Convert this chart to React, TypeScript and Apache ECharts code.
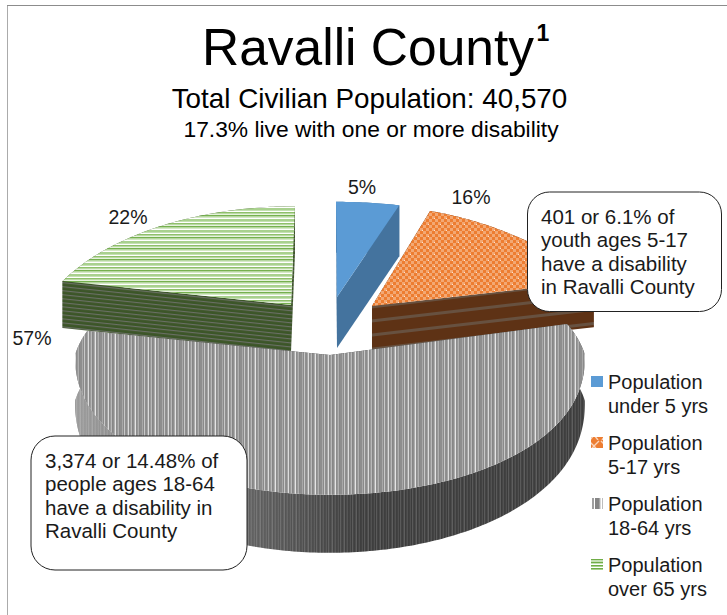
import React, { useEffect, useRef } from "react";
import * as echarts from "echarts";

const titleText = "Ravalli County";
const titleSup = "1";
const subtitle = "Total Civilian Population: 40,570";
const subtitle2 = "17.3% live with one or more disability";
const categories = ["Population under 5 yrs", "Population 5-17 yrs", "Population 18-64 yrs", "Population over 65 yrs"];
const legendLines = [
  ["Population", "under 5 yrs"],
  ["Population", "5-17 yrs"],
  ["Population", "18-64 yrs"],
  ["Population", "over 65 yrs"],
];
const shares = [5, 16, 57, 22];
const calloutYouth = ["401 or 6.1% of", "youth ages 5-17", "have a disability", "in Ravalli County"];
const calloutAdults = ["3,374 or 14.48% of", "people ages 18-64", "have a disability in", "Ravalli County"];

const FONT = '"Liberation Sans", Arial, sans-serif';
const INK = "#1a1a1a";

type Geo = {
  ax: number; ay: number; a: number; b: number; kx: number; ky: number; skew: number; depth: number;
  lx: number; ly: number; z: number;
};
const geometry: Geo[] = [
  { ax: 337, ay: 297, a: 270, b: 132, kx: 0.336, ky: 0.387, skew: -1, depth: 51, lx: 362, ly: 187, z: 1 },
  { ax: 372, ay: 306, a: 248, b: 100, kx: 0.336, ky: 0, skew: 0, depth: 46, lx: 471, ly: 197, z: 2 },
  { ax: 330, ay: 355, a: 255, b: 137, kx: 0.17, ky: 0.387, skew: 0, depth: 46, lx: 32, ly: 338, z: 4 },
  { ax: 291, ay: 305, a: 248, b: 137, kx: 0.336, ky: 0.387, skew: 4, depth: 47, lx: 128, ly: 217, z: 3 },
];

function tile(w: number, h: number, draw: (c: CanvasRenderingContext2D) => void) {
  const canvas = document.createElement("canvas");
  canvas.width = w;
  canvas.height = h;
  draw(canvas.getContext("2d") as CanvasRenderingContext2D);
  return canvas;
}

function vStripes(colors: string[]) {
  return tile(colors.length, 8, (c) => colors.forEach((col, i) => { c.fillStyle = col; c.fillRect(i, 0, 1, 8); }));
}
function hStripes(colors: string[]) {
  return tile(8, colors.length, (c) => colors.forEach((col, i) => { c.fillStyle = col; c.fillRect(0, i, 8, 1); }));
}

function makeFills() {
  const lattice = tile(12, 12, (c) => {
    c.fillStyle = "#ED7D31";
    c.fillRect(0, 0, 12, 12);
    c.fillStyle = "#F3A873";
    for (let y = 0; y < 12; y += 3) {
      for (let x = 0; x < 12; x += 3) {
        if (((x + y) / 3) % 2 === 0) c.fillRect(x, y, 3, 3);
      }
    }
    c.fillStyle = "#FBE3D2";
    c.fillRect(2, 2, 1, 1);
    c.fillRect(8, 8, 1, 1);
  });
  const greyTop = vStripes([
    "#8e8e8e", "#8e8e8e", "#a8a8a8", "#8a8a8a", "#c8c8c8", "#909090", "#8c8c8c", "#a4a4a4",
    "#dcdcdc", "#8a8a8a", "#9a9a9a", "#b8b8b8", "#868686", "#8e8e8e", "#acacac", "#e4e4e4",
    "#8c8c8c", "#989898", "#b0b0b0", "#888888",
  ]);
  const greySide = vStripes([
    "#3e3e3e", "#424242", "#505050", "#3c3c3c", "#5a5a5a", "#444444", "#3e3e3e", "#4c4c4c",
    "#5e5e5e", "#3c3c3c", "#464646", "#525252",
  ]);
  const greenTop = hStripes([
    "#a9d18e", "#c4e0b2", "#ffffff", "#8fc06a", "#b9d9a3", "#e6f2dd", "#76b04f", "#b5d79e",
    "#d4e8c6", "#ffffff", "#a9d18e",
  ]);
  const greenSide = hStripes(["#3c5628", "#3c5628", "#6a6f66", "#43592f"]);
  const brownSide = hStripes([
    "#5e3215", "#5e3215", "#5e3215", "#5e3215", "#5e3215", "#5e3215", "#5e3215", "#5e3215", "#5e3215",
    "#5e3215", "#675140", "#675140", "#675140", "#5e3215",
  ]);
  const legendOrange = tile(12, 11, (c) => {
    c.fillStyle = "#ED7D31";
    c.fillRect(0, 0, 12, 11);
    c.strokeStyle = "#F9D5BD";
    c.lineWidth = 1.4;
    c.beginPath();
    c.moveTo(1, 1); c.lineTo(6, 6); c.lineTo(11, 1);
    c.moveTo(6, 6); c.lineTo(2, 11);
    c.moveTo(6, 6); c.lineTo(10, 11);
    c.stroke();
  });
  const legendGrey = tile(12, 11, (c) => {
    ["#d9d9d9", "#ffffff", "#bdbdbd", "#ffffff", "#a0a0a0", "#a0a0a0", "#ffffff", "#858585", "#858585", "#858585", "#858585", "#a5a5a5"]
      .forEach((col, i) => { c.fillStyle = col; c.fillRect(i, 0, 1, 11); });
  });
  const legendGreen = tile(12, 11, (c) => {
    ["#c5e0b4", "#70ad47", "#c5e0b4", "#ffffff", "#70ad47", "#a9d18e", "#ffffff", "#70ad47", "#a9d18e", "#70ad47", "#c5e0b4"]
      .forEach((col, i) => { c.fillStyle = col; c.fillRect(0, i, 12, 1); });
  });
  const pat = (image: HTMLCanvasElement, rotation = 0) => ({ image, repeat: "repeat", rotation } as any);
  return {
    top: ["#5B9BD5", pat(lattice), pat(greyTop), pat(greenTop)],
    side: ["#44739E", pat(brownSide, -0.115), pat(greySide), pat(greenSide, 0.105)],
    legend: ["#5B9BD5", pat(legendOrange), pat(legendGrey), pat(legendGreen)],
  };
}

function project(g: Geo, theta: number, h: number): number[] {
  const u = Math.sin(theta);
  const v = Math.cos(theta);
  const sx = v >= 0 ? 1 / (1 + g.kx * v) : 1;
  const fy = v >= 0 ? (g.b * v) / (1 + g.ky * v) : (-g.b * Math.pow(-v, 0.88)) / (1 + 0.02 * v);
  const extra = h ? Math.max(0, -v) * 12 : 0;
  return [g.ax + g.a * u * sx + g.skew * v, g.ay - fy + h * g.depth + extra];
}

function sliceAngles(i: number): [number, number] {
  const total = shares.reduce((s, x) => s + x, 0);
  const before = shares.slice(0, i).reduce((s, x) => s + x, 0);
  return [(before / total) * 2 * Math.PI, ((before + shares[i]) / total) * 2 * Math.PI];
}

function arc(g: Geo, t0: number, t1: number, h: number) {
  const n = Math.max(4, Math.round((t1 - t0) * 60));
  const pts: number[][] = [];
  for (let k = 0; k <= n; k++) pts.push(project(g, t0 + ((t1 - t0) * k) / n, h));
  return pts;
}

function textEl(text: string, x: number, y: number, size: number, align = "left", extra: any = {}) {
  return {
    type: "text",
    x,
    y,
    z: 20,
    style: { text, fontFamily: FONT, fontSize: size, fill: INK, align, verticalAlign: "middle", ...extra },
  };
}

function callout(x: number, y: number, w: number, h: number, r: number, lines: string[], tx: number, ty: number, gap: number, size: number) {
  return [
    {
      type: "rect",
      z: 15,
      shape: { x, y, width: w, height: h, r },
      style: { fill: "#ffffff", stroke: "#222222", lineWidth: 1 },
    },
    ...lines.map((l, i) => textEl(l, tx, ty + i * gap, size)),
  ];
}

export default function App() {
  const ref = useRef<HTMLDivElement>(null);
  useEffect(() => {
    if (!ref.current) return;
    const chart = echarts.init(ref.current, undefined, { renderer: "svg" });
    const fills = makeFills();
    const legendEls: any[] = [];
    legendLines.forEach((lines, i) => {
      const y0 = 382 + i * 61;
      legendEls.push({
        type: "rect",
        z: 20,
        shape: { x: 591, y: y0 - 6, width: 12, height: 11 },
        style: { fill: fills.legend[i] },
      });
      lines.forEach((l, j) => legendEls.push(textEl(l, 608, y0 + j * 24, 20)));
    });
    chart.setOption({
      animation: false,
      backgroundColor: "#ffffff",
      graphic: [
        { type: "line", z: 1, shape: { x1: 7.5, y1: 5, x2: 7.5, y2: 615 }, style: { stroke: "#ababab", lineWidth: 1 } },
        { type: "line", z: 1, shape: { x1: 7, y1: 5.5, x2: 727, y2: 5.5 }, style: { stroke: "#8c8c8c", lineWidth: 1 } },
        textEl(titleText, 368, 47, 51.5, "center", { fill: "#000000" }),
        textEl(titleSup, 536.5, 33, 23, "left", { fontWeight: "bold", fill: "#000000" }),
        textEl(subtitle, 369.5, 98, 27.8, "center", { fill: "#000000" }),
        textEl(subtitle2, 371, 129, 22.8, "center", { fill: "#000000" }),
        ...callout(527.5, 192, 194, 119.5, 22, calloutYouth, 541, 216, 23.6, 20.5),
        ...callout(31, 436, 216, 134, 24, calloutAdults, 45, 460, 23.5, 20.5),
        ...legendEls,
      ],
      series: [
        {
          type: "custom",
          coordinateSystem: "none",
          silent: true,
          data: shares.map((value, i) => ({ value: [value], name: categories[i] })),
          renderItem: (params: any, api: any) => {
            const i = params.dataIndex;
            const g = geometry[i];
            const [t0, t1] = sliceAngles(i);
            const topArc = arc(g, t0, t1, 0);
            const apex = [g.ax, g.ay];
            const apexLow = [g.ax, g.ay + g.depth];
            const sideFill = fills.side[i];
            const wall = (pts: number[][], z: number) => ({
              type: "polygon",
              z2: g.z * 10 + z,
              shape: { points: pts },
              style: { fill: sideFill, stroke: "none" },
            });
            const rimLow = arc(g, t0, t1, 1);
            const rimPoints = [...topArc, ...rimLow.slice().reverse()];
            const children: any[] = [
              wall(rimPoints, 0),
              wall([apex, topArc[0], rimLow[0], apexLow], 1),
              wall([apex, topArc[topArc.length - 1], rimLow[rimLow.length - 1], apexLow], 1),
            ];
            if (i === 2) {
              children.push({
                type: "polygon",
                z2: g.z * 10 + 1,
                shape: { points: rimPoints },
                style: {
                  stroke: "none",
                  fill: {
                    type: "linear",
                    global: true,
                    x: 70,
                    y: 0,
                    x2: 360,
                    y2: 0,
                    colorStops: [
                      { offset: 0, color: "rgba(255,255,255,0.5)" },
                      { offset: 0.6, color: "rgba(255,255,255,0.2)" },
                      { offset: 1, color: "rgba(255,255,255,0)" },
                    ],
                  },
                },
              });
            }
            children.push(
              {
                type: "polygon",
                z2: g.z * 10 + 2,
                shape: { points: [apex, ...topArc] },
                style: { fill: fills.top[i], stroke: "none" },
              },
              {
                type: "text",
                z2: 90,
                x: g.lx,
                y: g.ly,
                style: {
                  text: `${api.value(0)}%`,
                  fontFamily: FONT,
                  fontSize: 19.5,
                  fill: INK,
                  align: "center",
                  verticalAlign: "middle",
                },
              }
            );
            return { type: "group", children };
          },
        },
      ],
    });
    return () => chart.dispose();
  }, []);
  return (
    <div
      ref={ref}
      style={{ position: "absolute", left: 0, top: 0, width: 727, height: 615, overflow: "hidden", background: "#fff" }}
    />
  );
}
